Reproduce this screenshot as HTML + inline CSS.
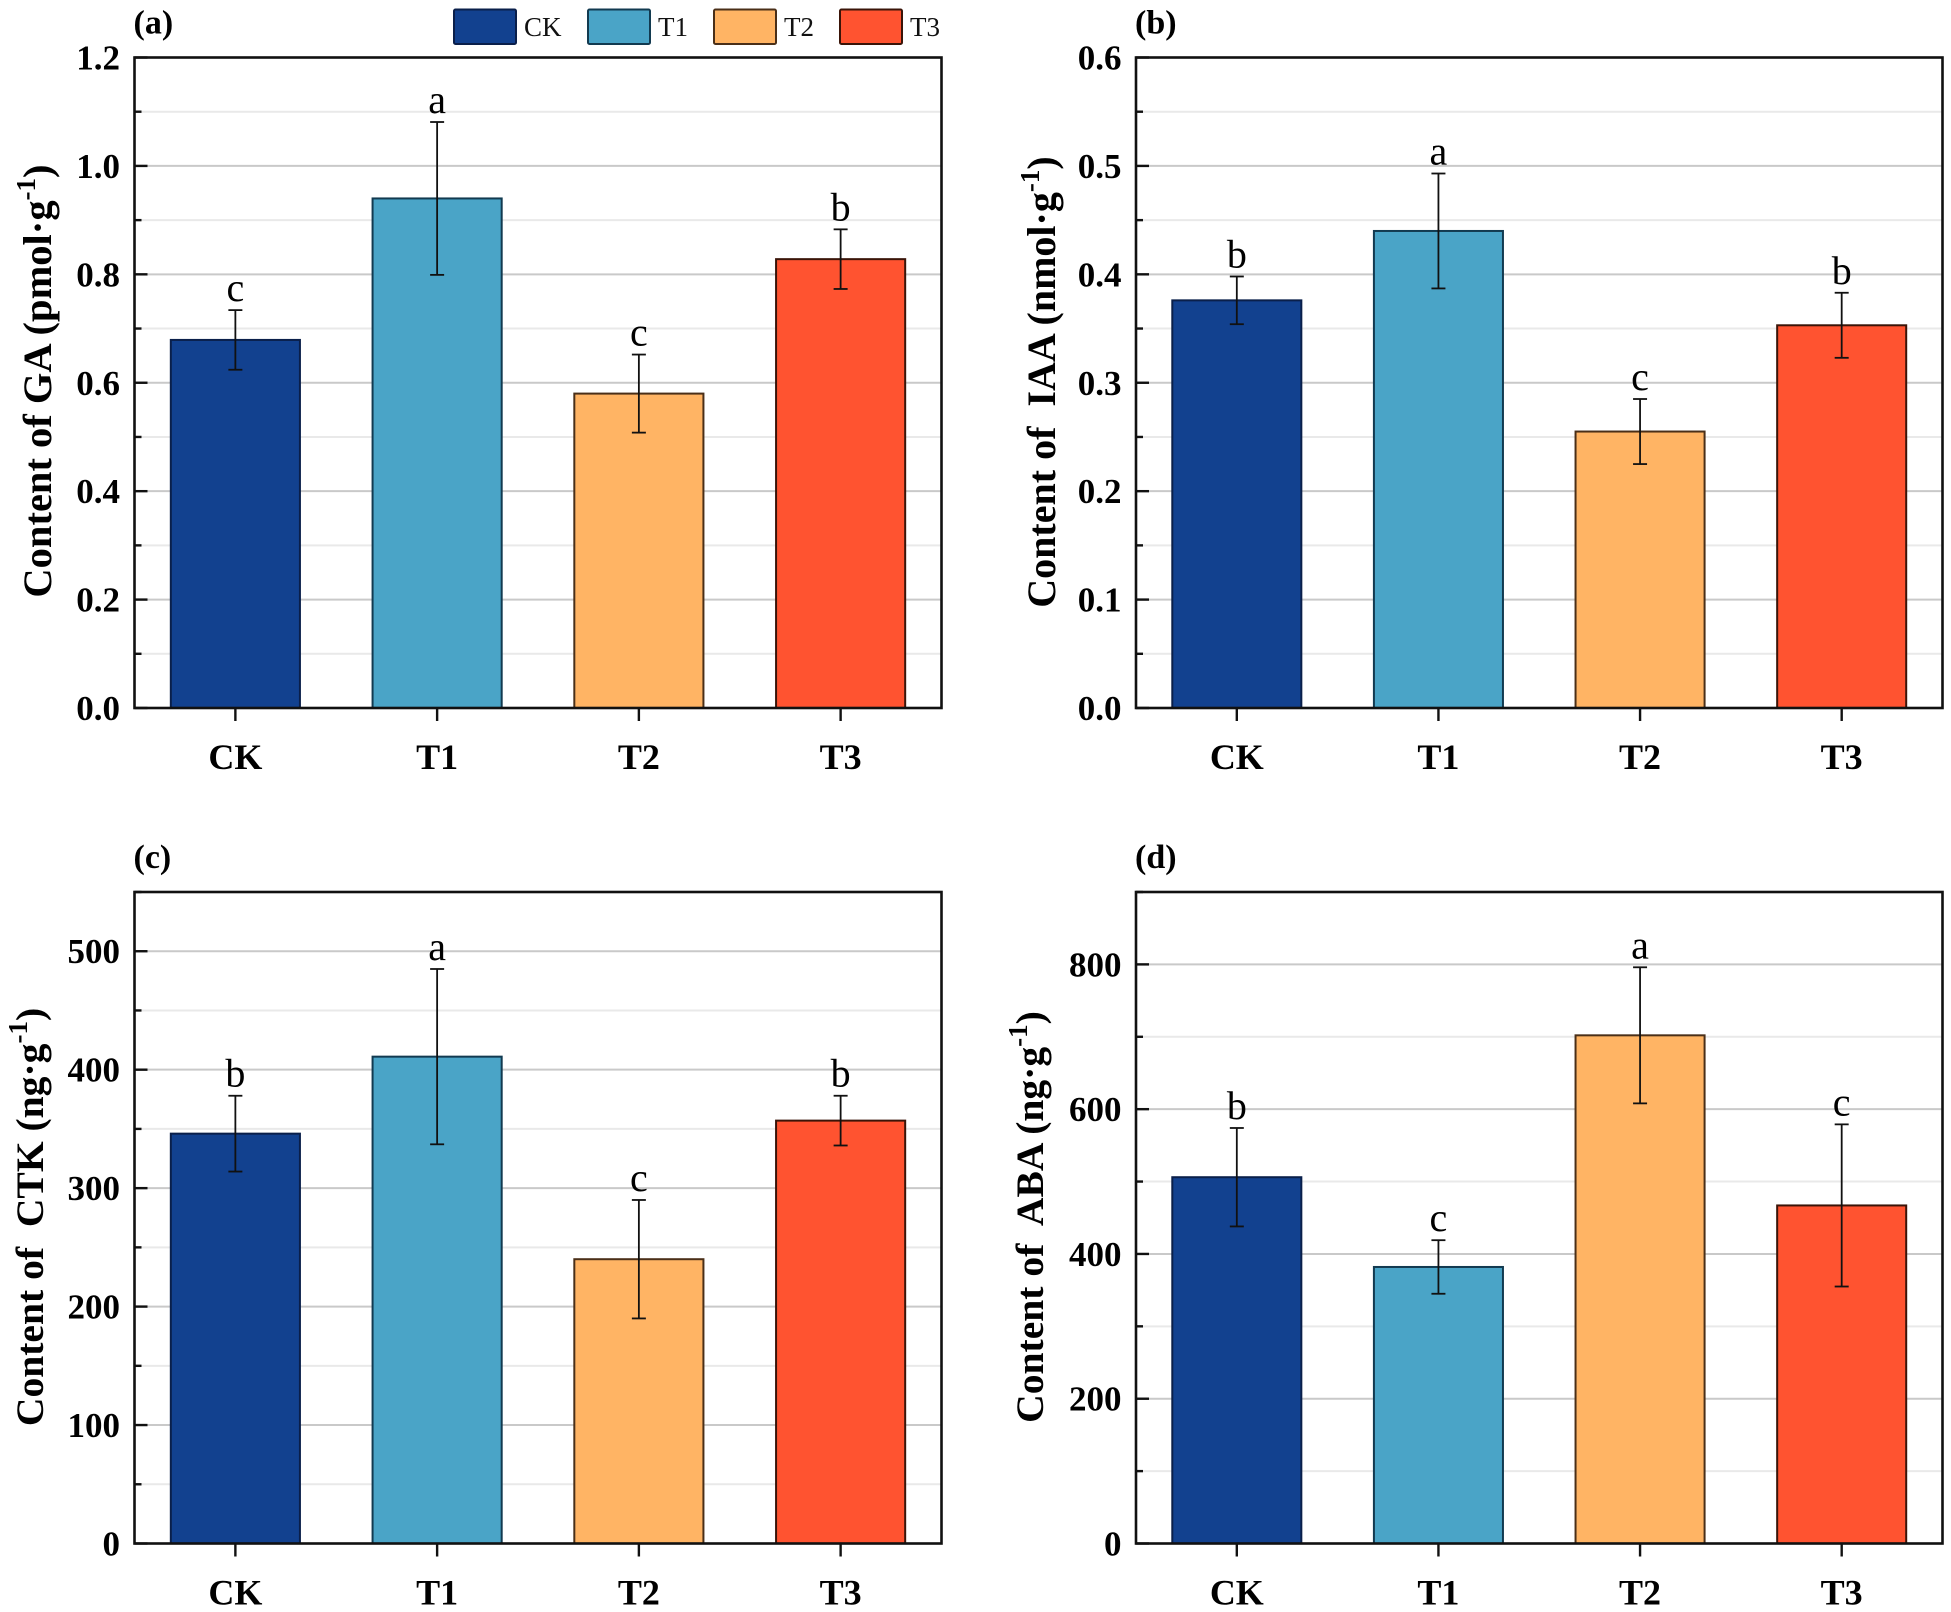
<!DOCTYPE html>
<html lang="en">
<head>
<meta charset="utf-8">
<title>Hormone content by treatment</title>
<style>
html,body{margin:0;padding:0;background:#fff;}
svg{display:block;font-family:"Liberation Serif",serif;}
</style>
</head>
<body>
<svg id="figure" xmlns="http://www.w3.org/2000/svg" width="1951" height="1612" viewBox="0 0 1951 1612"></svg>
<script>
const categories = ['CK', 'T1', 'T2', 'T3'];
const barColors = ['#12418f', '#4aa4c7', '#ffb464', '#ff5330'];
const barStrokes = ['#0a1f4a', '#123a50', '#4a2f18', '#3a1408'];

const gaValues = [0.679, 0.94, 0.58, 0.828];
const gaErrors = [0.055, 0.141, 0.072, 0.055];
const gaLetters = ['c', 'a', 'c', 'b'];
const gaTicks = ['0.0', '0.2', '0.4', '0.6', '0.8', '1.0', '1.2'];

const iaaValues = [0.376, 0.44, 0.255, 0.353];
const iaaErrors = [0.022, 0.053, 0.03, 0.03];
const iaaLetters = ['b', 'a', 'c', 'b'];
const iaaTicks = ['0.0', '0.1', '0.2', '0.3', '0.4', '0.5', '0.6'];

const ctkValues = [346, 411, 240, 357];
const ctkErrors = [32, 74, 50, 21];
const ctkLetters = ['b', 'a', 'c', 'b'];
const ctkTicks = ['0', '100', '200', '300', '400', '500'];

const abaValues = [506, 382, 702, 467];
const abaErrors = [68, 37, 94, 112];
const abaLetters = ['b', 'c', 'a', 'c'];
const abaTicks = ['0', '200', '400', '600', '800'];

const panels = [
  {id:'a', tag:'(a)', name:'ga', left:134.5, right:941.5, top:57.5, bottom:708, max:1.2, values:gaValues, errors:gaErrors, letters:gaLetters, ticks:gaTicks, title:'Content of GA (pmol·g', titleX:51, titleY:381, titleSize:40.5},
  {id:'b', tag:'(b)', name:'iaa', left:1136, right:1942.5, top:57.5, bottom:708, max:0.6, values:iaaValues, errors:iaaErrors, letters:iaaLetters, ticks:iaaTicks, title:'Content of\u00a0 IAA (nmol·g', titleX:1055, titleY:382, titleSize:40},
  {id:'c', tag:'(c)', name:'ctk', left:134.5, right:941.5, top:892, bottom:1543.5, max:550, values:ctkValues, errors:ctkErrors, letters:ctkLetters, ticks:ctkTicks, title:'Content of\u00a0 CTK (ng·g', titleX:43, titleY:1217, titleSize:39.6},
  {id:'d', tag:'(d)', name:'aba', left:1136, right:1942.5, top:892, bottom:1543.5, max:900, values:abaValues, errors:abaErrors, letters:abaLetters, ticks:abaTicks, title:'Content of\u00a0 ABA (ng·g', titleX:1043, titleY:1217, titleSize:39.6}
];

const NS = 'http://www.w3.org/2000/svg';
const svg = document.getElementById('figure');

function make(parent, tag, attrs, text) {
  const el = document.createElementNS(NS, tag);
  for (const k in attrs) el.setAttribute(k, attrs[k]);
  if (text !== undefined) el.textContent = text;
  parent.appendChild(el);
  return el;
}

function drawPanel(p) {
  const group = make(svg, 'g', {});
  
  

  const bandwidth = (p.right - p.left) / categories.length;
  const barWidth = bandwidth * 0.64;
  const xScale = i => p.left + bandwidth * (i + 0.5);
  const yScale = v => p.bottom - (v / p.max) * (p.bottom - p.top);

  const major = Number(p.ticks[1]) - Number(p.ticks[0]);
  const minor = major / 2;
  const steps = Math.round(p.max / minor);

  // gridlines and ticks
  for (let s = 1; s <= steps; s++) {
    const v = s * minor;
    const y = yScale(v);
    const isMajor = s % 2 === 0;
    if (s < steps) {
      const grid = make(group, 'line', {x1:p.left, x2:p.right, y1:y, y2:y, stroke:isMajor ? '#c9c9c9' : '#e9e9e9', 'stroke-width':2});
      
      
    }
  }
  for (let s = 0; s <= steps; s++) {
    const y = yScale(s * minor);
    const isMajor = s % 2 === 0;
    const tick = make(group, 'line', {x1:p.left, x2:p.left + (isMajor ? 13 : 7), y1:y, y2:y, stroke:'#111', 'stroke-width':2.4});
    
    
  }
  p.ticks.forEach((label, i) => {
    const y = yScale(Number(label));
    const t = make(group, 'text', {x:p.left - 14.5, y:y + 12, 'text-anchor':'end', 'font-size':35, 'font-weight':'bold', fill:'#000'}, label);
    
    
  });

  // bars
  categories.forEach((cat, i) => {
    const cx = xScale(i);
    const y = yScale(p.values[i]);
    const bar = make(group, 'rect', {x:cx - barWidth / 2, y:y, width:barWidth, height:p.bottom - y, fill:barColors[i], stroke:barStrokes[i], 'stroke-width':2});
    
    
  });

  // frame
  const frame = make(group, 'rect', {x:p.left, y:p.top, width:p.right - p.left, height:p.bottom - p.top, fill:'none', stroke:'#111', 'stroke-width':2.6});
  
  

  // error bars, letters, x axis
  categories.forEach((cat, i) => {
    const cx = xScale(i);
    const hi = yScale(p.values[i] + p.errors[i]);
    const lo = yScale(p.values[i] - p.errors[i]);
    const stem = make(group, 'line', {x1:cx, x2:cx, y1:hi, y2:lo, stroke:'#111', 'stroke-width':1.8});
    
    
    [hi, lo].forEach(cy => {
      const cap = make(group, 'line', {x1:cx - 7, x2:cx + 7, y1:cy, y2:cy, stroke:'#111', 'stroke-width':1.8});
      
      
    });
    const letter = make(group, 'text', {x:cx, y:hi - 9, 'text-anchor':'middle', 'font-size':40, fill:'#000'}, p.letters[i]);
    
    
    const tick = make(group, 'line', {x1:cx, x2:cx, y1:p.bottom, y2:p.bottom + 13, stroke:'#111', 'stroke-width':2.4});
    
    
    const label = make(group, 'text', {x:cx, y:p.bottom + 61, 'text-anchor':'middle', 'font-size':36, 'font-weight':'bold', fill:'#000'}, cat);
    
    
  });

  // panel tag
  const tag = make(group, 'text', {x:p.left - 1, y:p.top - 24, 'font-size':34, 'font-weight':'bold', fill:'#000'}, p.tag);
  
  

  // y title
  const title = make(group, 'text', {transform:'translate(' + p.titleX + ',' + p.titleY + ') rotate(-90)', 'text-anchor':'middle', 'font-size':p.titleSize, 'font-weight':'bold', fill:'#000'});
  
  
  make(title, 'tspan', {}, p.title);
  make(title, 'tspan', {dy:-16, 'font-size':27}, '-1');
  make(title, 'tspan', {dy:16}, ')');
}

panels.forEach(drawPanel);

// legend
const legendBoxX = [454, 588, 714, 840];
const legend = make(svg, 'g', {});


categories.forEach((cat, i) => {
  const swatch = make(legend, 'rect', {x:legendBoxX[i], y:9.5, width:62, height:34.5, rx:1.5, fill:barColors[i], stroke:barStrokes[i], 'stroke-width':2});
  
  
  const t = make(legend, 'text', {x:legendBoxX[i] + 70, y:36, 'font-size':27, fill:'#111'}, cat);
  
  
});
</script>
</body>
</html>
